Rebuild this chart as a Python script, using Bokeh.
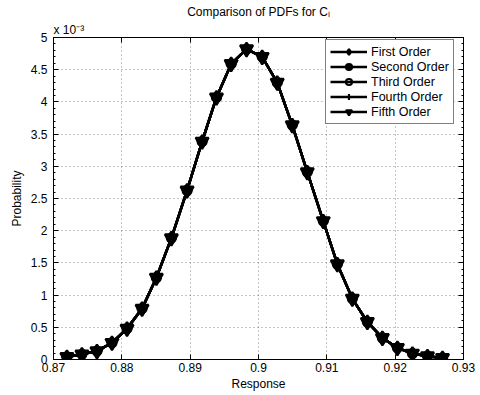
from bokeh.plotting import figure
from bokeh.models import (FixedTicker, LinearAxis, Range1d, Legend, Title,
                          LegendItem, CustomJSTickFormatter)
from bokeh.embed import file_html
from bokeh.resources import INLINE

FONT = "Liberation Sans"

# Response values (x) and PDF values in units of 1e-3
response = [0.87196, 0.87416, 0.87636, 0.87856, 0.88076, 0.88296, 0.88505,
            0.88725, 0.88955, 0.89175, 0.89385, 0.89600, 0.89825, 0.90054,
            0.90274, 0.90494, 0.90714, 0.90948, 0.91154, 0.91373, 0.91593,
            0.91813, 0.92033, 0.92253, 0.92473, 0.92693]
first_order = [0.04, 0.08, 0.13, 0.26, 0.48, 0.79, 1.27, 1.885, 2.625, 3.385,
               4.07, 4.59, 4.82, 4.70, 4.30, 3.64, 2.91, 2.15, 1.48, 0.946,
               0.583, 0.335, 0.18, 0.093, 0.051, 0.025]
second_order = [0.04, 0.08, 0.13, 0.26, 0.48, 0.79, 1.27, 1.885, 2.625, 3.385,
                4.07, 4.59, 4.82, 4.70, 4.30, 3.64, 2.91, 2.15, 1.48, 0.946,
                0.583, 0.335, 0.18, 0.093, 0.051, 0.025]
third_order = [0.04, 0.08, 0.13, 0.26, 0.48, 0.79, 1.27, 1.885, 2.625, 3.385,
               4.07, 4.59, 4.82, 4.70, 4.30, 3.64, 2.91, 2.15, 1.48, 0.946,
               0.583, 0.335, 0.18, 0.093, 0.051, 0.025]
fourth_order = [0.04, 0.08, 0.13, 0.26, 0.48, 0.79, 1.27, 1.885, 2.625, 3.385,
                4.07, 4.59, 4.82, 4.70, 4.30, 3.64, 2.91, 2.15, 1.48, 0.946,
                0.583, 0.335, 0.18, 0.093, 0.051, 0.025]
fifth_order = [0.04, 0.08, 0.13, 0.26, 0.48, 0.79, 1.27, 1.885, 2.625, 3.385,
               4.07, 4.59, 4.82, 4.70, 4.30, 3.64, 2.91, 2.15, 1.48, 0.946,
               0.583, 0.335, 0.18, 0.093, 0.051, 0.025]

series_names = ["First Order", "Second Order", "Third Order", "Fourth Order", "Fifth Order"]
x_ticks = [0.87, 0.88, 0.89, 0.90, 0.91, 0.92, 0.93]
y_ticks = [0, 0.5, 1, 1.5, 2, 2.5, 3, 3.5, 4, 4.5, 5]
y_minor = [i / 10 for i in range(0, 51)]

p = figure(width=480, height=395, output_backend="svg", toolbar_location=None,
           x_range=Range1d(0.87, 0.93), y_range=Range1d(0, 5),
           min_border_left=53, min_border_right=17, min_border_top=37,
           min_border_bottom=36, background_fill_color="white",
           border_fill_color="white")
p.outline_line_color = "black"

xfmt = CustomJSTickFormatter(code="return String(Math.round(tick*100)/100);")
yfmt = CustomJSTickFormatter(code="return String(Math.round(tick*10)/10);")

p.xaxis.ticker = FixedTicker(ticks=x_ticks)
p.yaxis.ticker = FixedTicker(ticks=y_ticks, minor_ticks=y_minor)
p.xaxis.formatter = xfmt
p.yaxis.formatter = yfmt

for ax in [p.xaxis[0], p.yaxis[0]]:
    ax.axis_line_color = "black"
    ax.major_tick_in = 5
    ax.major_tick_out = 0
    ax.major_tick_line_color = "black"
    ax.major_label_text_font = FONT
    ax.major_label_text_font_size = "12px"
    ax.major_label_text_color = "black"
    ax.axis_label_text_font = FONT
    ax.axis_label_text_font_size = "12px"
    ax.axis_label_text_font_style = "normal"
    ax.axis_label_text_color = "black"
p.xaxis.minor_tick_line_color = None
p.yaxis.minor_tick_in = 2
p.yaxis.minor_tick_out = 0
p.yaxis.minor_tick_line_color = "black"
p.xaxis.major_label_standoff = 3
p.yaxis.major_label_standoff = 6
p.xaxis.axis_label = "Response"
p.xaxis.axis_label_standoff = 2
p.yaxis.axis_label = "Probability"
p.yaxis.axis_label_standoff = 4

top = LinearAxis(ticker=FixedTicker(ticks=x_ticks), major_label_text_font_size="0px",
                 major_label_standoff=0, major_tick_in=5, major_tick_out=0,
                 minor_tick_line_color=None, axis_line_color="black")
right = LinearAxis(ticker=FixedTicker(ticks=y_ticks, minor_ticks=y_minor),
                   major_label_text_font_size="0px", major_label_standoff=0,
                   major_tick_in=5, major_tick_out=0, minor_tick_in=2,
                   minor_tick_out=0, axis_line_color="black")
p.add_layout(top, "above")
p.add_layout(right, "right")

for g in [p.xgrid[0], p.ygrid[0]]:
    g.grid_line_color = "black"
    g.grid_line_alpha = 0.45
    g.grid_line_dash = "1 3"
    g.grid_line_width = 1

all_series = [first_order, second_order, third_order, fourth_order, fifth_order]
markers = [
    dict(marker="diamond", size=13, fill_color=None),
    dict(marker="circle", size=7, fill_color="black"),
    dict(marker="circle", size=9, fill_color=None),
    dict(marker="cross", size=10, fill_color=None),
    dict(marker="inverted_triangle", size=13, fill_color=None),
]
items = []
for name, ys, mk in zip(series_names, all_series, markers):
    lr = p.line(response, ys, line_color="black", line_width=2.5)
    sr = p.scatter(response, ys, line_color="black", line_width=2.2, **mk)
    items.append(LegendItem(label=name, renderers=[lr, sr]))

legend = Legend(items=items, location=(272, 235), padding=4, spacing=0,
                margin=0, glyph_width=37, glyph_height=15, label_height=15,
                label_standoff=4, label_text_font=FONT, label_text_font_size="12.5px",
                label_text_color="black", border_line_color="black",
                border_line_width=1, background_fill_color="white",
                background_fill_alpha=1)
p.add_layout(legend, "center")

p.add_layout(Title(text="x 10\u207b\u00b3", align="left", text_font=FONT,
                   text_font_size="12px", text_font_style="normal",
                   text_color="black", standoff=1), "above")
p.add_layout(Title(text="Comparison of PDFs for C\u2097", align="center", text_font=FONT,
                   text_font_size="12px", text_font_style="normal",
                   text_color="black", standoff=3), "above")

open("out.html", "w").write(file_html(p, INLINE))
